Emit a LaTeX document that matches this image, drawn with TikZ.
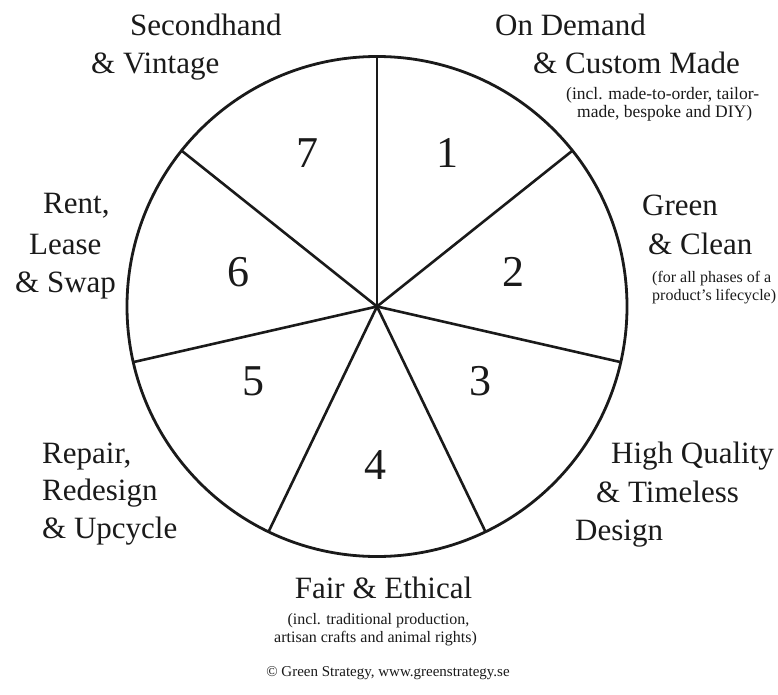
\documentclass[tikz,border=0pt]{standalone}
\usepackage{fontspec}
\setmainfont{Liberation Serif}
\definecolor{ink}{HTML}{1A1A1A}
\begin{document}
\begin{tikzpicture}[x=1pt,y=-1pt,
  big/.style={font=\fontsize{31}{38}\selectfont, anchor=base west, inner sep=0pt, text=ink},
  small/.style={font=\fontsize{16}{18}\selectfont, anchor=base west, inner sep=0pt, text=ink},
  smallc/.style={font=\fontsize{16}{18}\selectfont, anchor=base, inner sep=0pt, text=ink},
  num/.style={font=\fontsize{44}{48}\selectfont, anchor=center, inner sep=0pt, text=ink},
  rim/.style={line width=2.8pt, draw=ink},
  spoke/.style={line width=2.6pt, draw=ink}]
\useasboundingbox (0,0) rectangle (778,695);
\fill[white] (0,0) rectangle (778,695);
\coordinate (c) at (377,306.5);
\foreach \k in {0,...,6}{
  \path (c) ++({-90+\k*360/7}:250) coordinate (s\k);
  \draw[spoke] (c) -- (s\k);
}
\draw[rim] (c) circle[radius=250];
% numbers
\node[num] (n1) at (447,153) {1};
\node[num] (n2) at (513,272) {2};
\node[num] (n3) at (480,381) {3};
\node[num] (n4) at (375,465) {4};
\node[num] (n5) at (253,381) {5};
\node[num] (n6) at (238,272) {6};
\node[num] (n7) at (307,153) {7};
% 7
\node[big] (l7a) at (130,36) {Secondhand};
\node[big] (l7b) at (91,74) {\& Vintage};
% 1
\node[big] (l1a) at (495,36) {On Demand};
\node[big] (l1b) at (533,74) {\& Custom Made};
\node[small, font=\fontsize{17.5}{18}\selectfont] (l1c) at (566,100) {(incl. made-to-order, tailor-};
\node[small, font=\fontsize{17.5}{18}\selectfont] (l1d) at (577,118) {made, bespoke and DIY)};
% 2
\node[big] (l2a) at (642,215) {Green};
\node[big] (l2b) at (648,254) {\& Clean};
\node[small] (l2c) at (652,282) {(for all phases of a};
\node[small] (l2d) at (652,300) {product’s lifecycle)};
% 6
\node[big] (l6a) at (43,213) {Rent,};
\node[big] (l6b) at (29,254) {Lease};
\node[big] (l6c) at (15,292) {\& Swap};
% 5
\node[big] (l5a) at (42,463) {Repair,};
\node[big] (l5b) at (42,500) {Redesign};
\node[big] (l5c) at (42,538) {\& Upcycle};
% 3
\node[big] (l3a) at (611,463) {High Quality};
\node[big] (l3b) at (596,502) {\& Timeless};
\node[big] (l3c) at (575,540) {Design};
% 4
\node[big, anchor=base] (l4a) at (383.5,598) {Fair \& Ethical};
\node[smallc] (l4b) at (378.5,624) {(incl. traditional production,};
\node[smallc] (l4c) at (375.5,642) {artisan crafts and animal rights)};
% copyright
\node[smallc, font=\fontsize{15}{18}\selectfont] (copy) at (388,676) {© Green Strategy, www.greenstrategy.se};
\end{tikzpicture}
\end{document}
